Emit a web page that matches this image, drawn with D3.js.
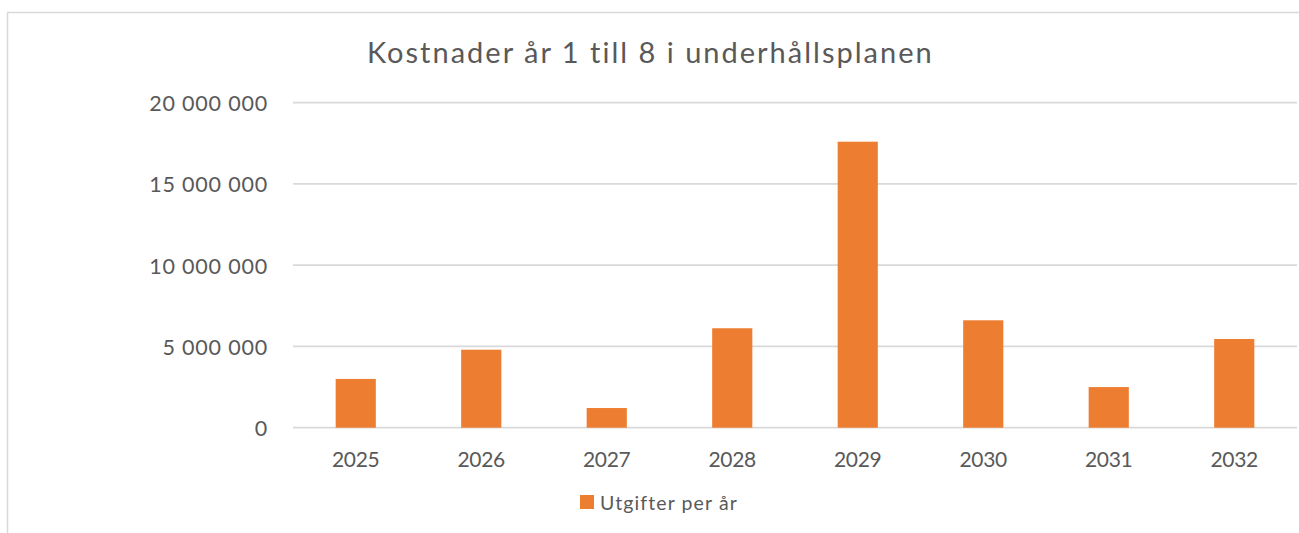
<!DOCTYPE html>
<html><head><meta charset="utf-8">
<script src="https://cdn.jsdelivr.net/npm/d3@7"></script>
<style>html,body{margin:0;padding:0;background:#fff;overflow:hidden}</style>
</head><body>
<svg id="c" width="1299" height="533"></svg>
<script>
const categories = ["2025","2026","2027","2028","2029","2030","2031","2032"];
const values = [3000000, 4800000, 1210000, 6120000, 17600000, 6610000, 2500000, 5460000];
const yTicks = [0, 5000000, 10000000, 15000000, 20000000];
const seriesName = "Utgifter per år";
const title = "Kostnader år 1 till 8 i underhållsplanen";

const svg = d3.select("#c");
const font = "Lato, 'Open Sans', sans-serif";
const txt = "#595959";
const grid = "#d9d9d9";
const orange = "#ed7d31";

// chart border
svg.append("rect").attr("x",7.5).attr("y",12.5).attr("width",1400).attr("height",600)
  .attr("fill","none").attr("stroke",grid).attr("stroke-width",1.5);

const x = d3.scaleBand().domain(categories).range([293, 1297]).paddingInner(0.68).paddingOuter(0.34);
const y = d3.scaleLinear().domain([0, 20000000]).range([427.7, 102.7]);

const fmt = v => d3.format(",")(v).replace(/,/g, " ");

// gridlines
svg.append("g").selectAll("line").data(yTicks).join("line")
  .attr("x1",293).attr("x2",1297)
  .attr("y1",d=>y(d)).attr("y2",d=>y(d))
  .attr("stroke",grid).attr("stroke-width",1.8);

// y axis labels
const yAxis = d3.axisLeft(y).tickValues(yTicks).tickFormat(fmt).tickSize(0).tickPadding(0);
const gy = svg.append("g").attr("transform","translate(268,0)").call(yAxis);
gy.select(".domain").remove();
gy.selectAll("text").attr("font-family",font).attr("font-size",21.5).attr("fill",txt)
  .attr("dy","0.37em").attr("letter-spacing","0.8px");

// bars
svg.append("g").selectAll("rect").data(values).join("rect")
  .attr("x",(d,i)=>x(categories[i])).attr("width",x.bandwidth())
  .attr("y",d=>y(d)).attr("height",d=>y(0)-y(d))
  .attr("fill",orange);

// x axis labels
const xAxis = d3.axisBottom(x).tickSize(0).tickPadding(0);
const gx = svg.append("g").attr("transform","translate(0,467.3)").call(xAxis);
gx.select(".domain").remove();
gx.selectAll("text").attr("font-family",font).attr("font-size",21).attr("fill",txt)
  .attr("dy",0).attr("letter-spacing","-0.3px");

// title
svg.append("text").attr("x",367).attr("y",63).text(title)
  .attr("font-family",font).attr("font-size",29).attr("fill",txt)
  .attr("letter-spacing","2px");

// legend
const lg = svg.append("g");
lg.append("rect").attr("x",580).attr("y",495).attr("width",14).attr("height",14).attr("fill",orange);
lg.append("text").attr("x",600).attr("y",510).text(seriesName)
  .attr("font-family",font).attr("font-size",19.5).attr("fill",txt)
  .attr("letter-spacing","1.1px");
</script>
</body></html>
